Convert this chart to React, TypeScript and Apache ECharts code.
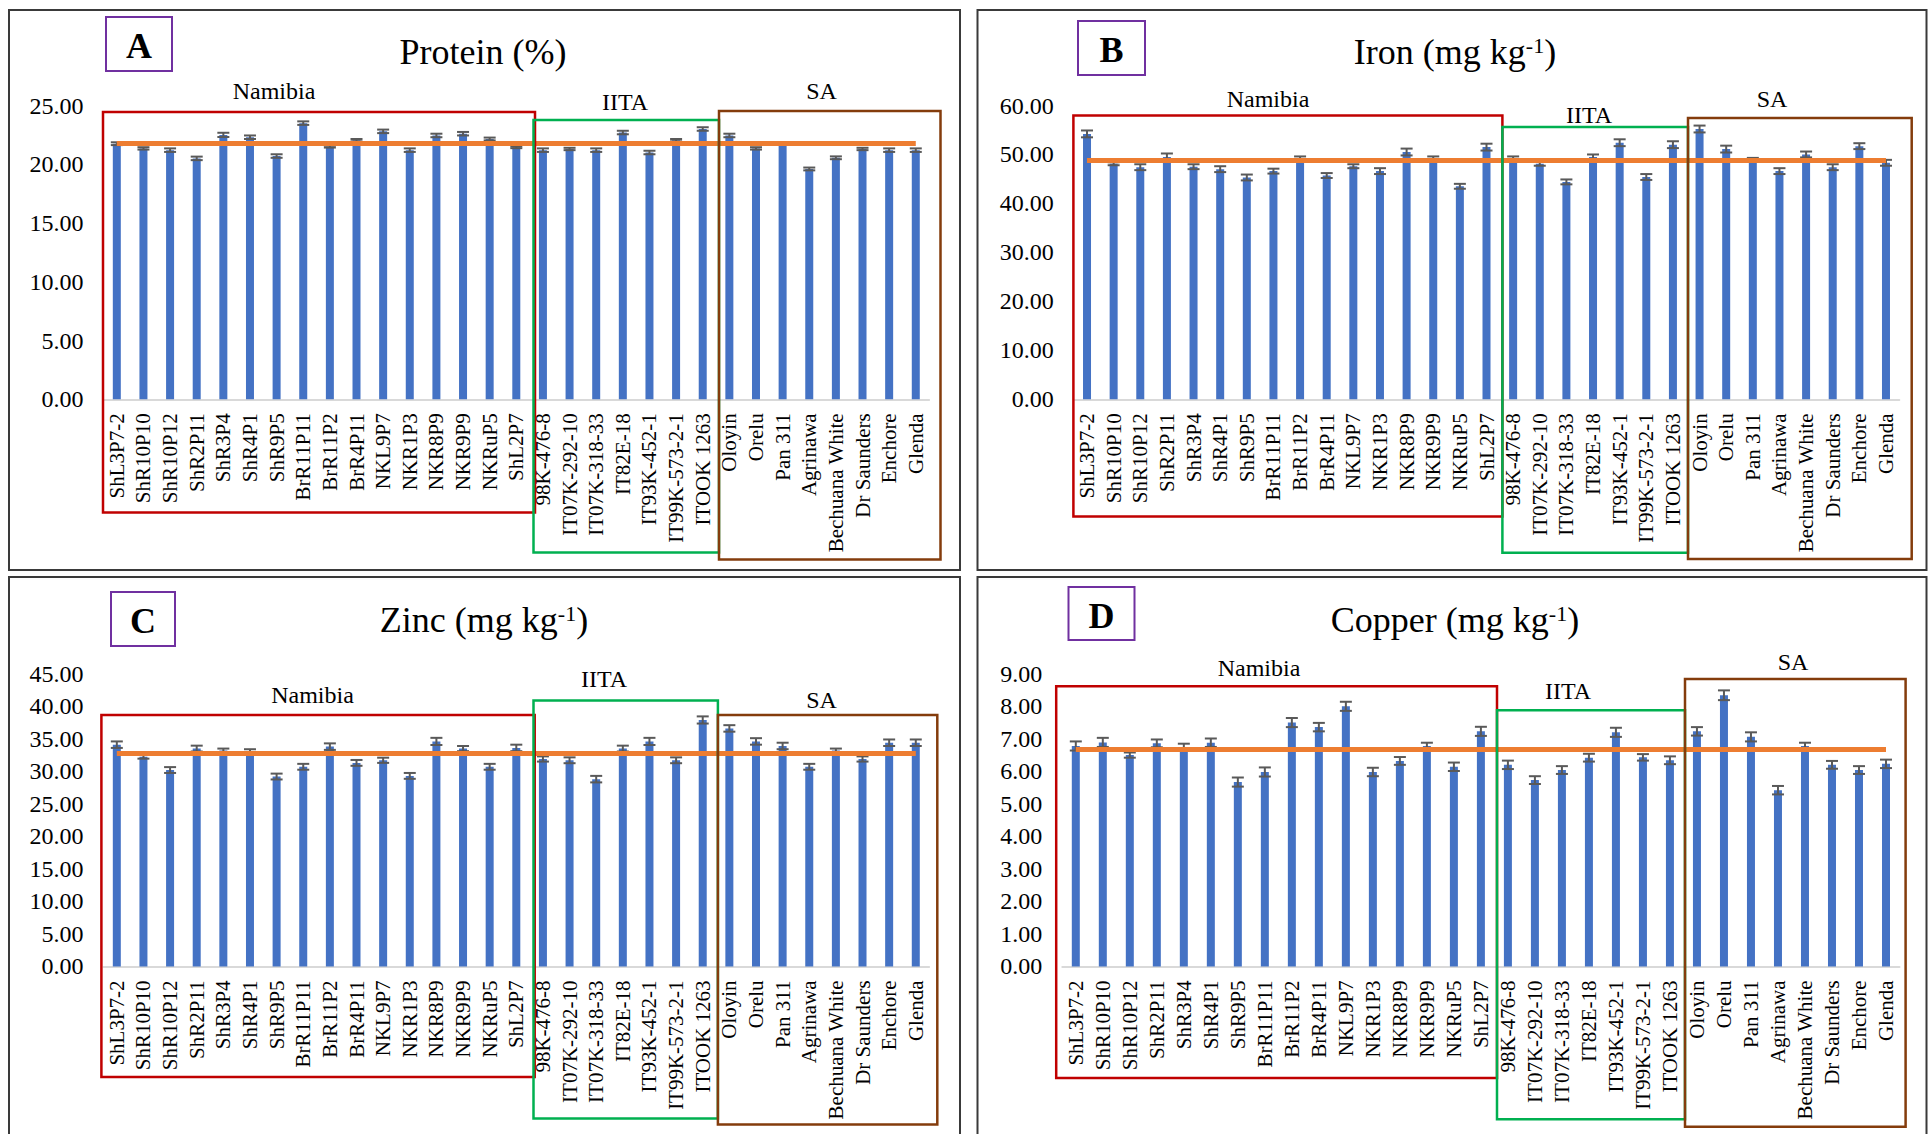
import React, { useEffect, useRef } from "react";
import * as echarts from "echarts";

// ---------------- DATA ----------------
const categories = [
  "ShL3P7-2", "ShR10P10", "ShR10P12", "ShR2P11", "ShR3P4", "ShR4P1", "ShR9P5", "BrR11P11",
  "BrR11P2", "BrR4P11", "NKL9P7", "NKR1P3", "NKR8P9", "NKR9P9", "NKRuP5", "ShL2P7",
  "98K-476-8", "IT07K-292-10", "IT07K-318-33", "IT82E-18", "IT93K-452-1", "IT99K-573-2-1", "ITOOK 1263",
  "Oloyin", "Orelu", "Pan 311", "Agrinawa", "Bechuana White", "Dr Saunders", "Enchore", "Glenda",
];

const proteinValues = [21.75, 21.35, 21.2, 20.5, 22.5, 22.3, 20.7, 23.5, 21.5, 22.05, 22.8, 21.2, 22.45, 22.6, 22.15, 21.45, 21.2, 21.3, 21.2, 22.7, 21.0, 22.05, 23.0, 22.45, 21.35, 21.75, 19.6, 20.55, 21.3, 21.2, 21.2];
const proteinErr = [0.12, 0.1, 0.15, 0.15, 0.18, 0.15, 0.15, 0.15, 0.08, 0.1, 0.15, 0.15, 0.15, 0.15, 0.12, 0.08, 0.15, 0.1, 0.15, 0.15, 0.15, 0.1, 0.15, 0.15, 0.1, 0.05, 0.12, 0.12, 0.1, 0.15, 0.15];
const proteinMean = 21.75;

const ironValues = [54.2, 48.1, 47.4, 49.5, 47.5, 47.0, 45.3, 46.6, 49.2, 45.7, 47.6, 46.6, 50.5, 49.3, 43.5, 51.5, 49.2, 48.1, 44.4, 49.5, 52.4, 45.4, 52.0, 55.2, 51.1, 49.0, 46.6, 50.0, 47.4, 51.7, 48.3];
const ironErr = [0.7, 0.3, 0.6, 0.7, 0.5, 0.6, 0.6, 0.5, 0.4, 0.5, 0.4, 0.6, 0.7, 0.3, 0.5, 0.7, 0.4, 0.4, 0.5, 0.5, 0.7, 0.6, 0.7, 0.7, 0.7, 0.3, 0.6, 0.6, 0.6, 0.6, 0.6];
const ironMean = 48.9;

const zincValues = [34.1, 32.25, 30.2, 33.5, 33.2, 33.1, 29.2, 30.7, 33.8, 31.3, 31.7, 29.3, 34.6, 33.5, 30.7, 33.6, 31.9, 31.7, 28.8, 33.5, 34.6, 31.7, 37.9, 36.6, 34.6, 33.9, 30.7, 33.2, 31.9, 34.4, 34.4];
const zincErr = [0.5, 0.3, 0.45, 0.45, 0.3, 0.3, 0.45, 0.45, 0.5, 0.45, 0.4, 0.45, 0.55, 0.4, 0.45, 0.5, 0.4, 0.45, 0.5, 0.45, 0.55, 0.45, 0.55, 0.5, 0.5, 0.5, 0.45, 0.3, 0.4, 0.5, 0.5];
const zincMean = 32.8;

const copperValues = [6.78, 6.89, 6.5, 6.86, 6.75, 6.88, 5.67, 5.98, 7.5, 7.36, 8.0, 5.98, 6.32, 6.78, 6.14, 7.23, 6.2, 5.73, 6.04, 6.42, 7.2, 6.43, 6.34, 7.23, 8.34, 7.06, 5.42, 6.78, 6.2, 6.04, 6.23];
const copperErr = [0.14, 0.14, 0.08, 0.12, 0.1, 0.13, 0.14, 0.14, 0.14, 0.13, 0.14, 0.13, 0.12, 0.1, 0.13, 0.14, 0.13, 0.12, 0.12, 0.12, 0.14, 0.1, 0.12, 0.13, 0.15, 0.14, 0.13, 0.1, 0.12, 0.12, 0.13];
const copperMean = 6.67;

const yMaxes = [25, 60, 45, 9];
const yIntervals = [5, 10, 5, 1];
const titles = ["Protein (%)", "Iron (mg kg{sup|-1})", "Zinc (mg kg{sup|-1})", "Copper (mg kg{sup|-1})"];
const letters = ["A", "B", "C", "D"];
const groupNames = ["Namibia", "IITA", "SA"];

// ---------------- LAYOUT ----------------
const FONT = "Liberation Serif";
const BAR = "#4472C4";
const MEANC = "#ED7D31";
const ERRC = "#595959";
const GROUPC = ["#C00000", "#00B050", "#843C0C"];
const PURPLE = "#7030A0";

const grids = [
  { left: 103.5, top: 105.5, width: 825.6, height: 293.8 },
  { left: 1073.7, top: 105.5, width: 825.6, height: 293.8 },
  { left: 103.5, top: 673.8, width: 825.6, height: 292.6 },
  { left: 1062.3, top: 673.8, width: 837.2, height: 292.6 },
];
const panelFrames = [
  { x: 9, y: 10, w: 951, h: 560 },
  { x: 977.5, y: 10, w: 949, h: 560 },
  { x: 9, y: 577, w: 951, h: 560 },
  { x: 977.5, y: 577, w: 949, h: 560 },
];
const titlePos = [
  [483, 52],
  [1455, 52],
  [484, 620],
  [1455, 620],
];
const letterBoxes = [
  { x: 106, y: 17, w: 66, h: 54 },
  { x: 1078, y: 21, w: 67, h: 54 },
  { x: 111, y: 592, w: 64, h: 54 },
  { x: 1068.5, y: 587, w: 66, h: 53 },
];
// [x1,y1,x2,y2] for Namibia, IITA, SA boxes per panel
const groupBoxes = [
  [[103, 112, 535, 512.5], [533.5, 120, 719, 552.5], [719, 111, 940.5, 559.5]],
  [[1073.4, 115.6, 1502.4, 516.4], [1502.4, 127, 1688, 552.7], [1688, 118, 1911.7, 559]],
  [[101.4, 715, 534.7, 1077], [533.5, 700.6, 717.9, 1118.5], [717.9, 715, 937.3, 1124.6]],
  [[1056.2, 686.2, 1497, 1077.9], [1497, 710.3, 1685, 1119.3], [1685, 679, 1905.6, 1126.8]],
];
const groupLabelPos = [
  [[274, 91], [625, 102], [821.5, 91]],
  [[1268, 98.5], [1589, 114.5], [1772, 98.5]],
  [[312.5, 695], [604, 679], [821.5, 699.5]],
  [[1259, 667.5], [1568, 691], [1793, 661.5]],
];

export default function App() {
  const ref = useRef<HTMLDivElement>(null);

  useEffect(() => {
    if (!ref.current) return;
    const chart = echarts.init(ref.current, undefined, { renderer: "svg" });

    const panelValues = [proteinValues, ironValues, zincValues, copperValues];
    const panelErrs = [proteinErr, ironErr, zincErr, copperErr];
    const panelMeans = [proteinMean, ironMean, zincMean, copperMean];

    const series: any[] = [];
    panelValues.forEach((vals, i) => {
      series.push({
        type: "bar",
        xAxisIndex: i,
        yAxisIndex: i,
        data: vals,
        barWidth: 8,
        itemStyle: { color: BAR },
        z: 2,
        markLine: {
          silent: true,
          symbol: "none",
          label: { show: false },
          lineStyle: { color: MEANC, width: 5, type: "solid", opacity: 1 },
          data: [
            [
              { xAxis: categories[0], yAxis: panelMeans[i] },
              { xAxis: categories[categories.length - 1], yAxis: panelMeans[i] },
            ],
          ],
        },
      });
      series.push({
        type: "custom",
        xAxisIndex: i,
        yAxisIndex: i,
        z: 4,
        encode: { x: 0, y: 1 },
        data: vals.map((v, k) => [k, v, panelErrs[i][k]]),
        renderItem: (params: any, api: any) => {
          const idx = api.value(0);
          const v = api.value(1);
          const e = api.value(2);
          const top = api.coord([idx, v + e]);
          const bot = api.coord([idx, v - e]);
          const hw = 6;
          const st = { stroke: ERRC, lineWidth: 2 };
          return {
            type: "group",
            children: [
              { type: "line", shape: { x1: top[0], y1: top[1], x2: bot[0], y2: bot[1] }, style: st },
              { type: "line", shape: { x1: top[0] - hw, y1: top[1], x2: top[0] + hw, y2: top[1] }, style: st },
              { type: "line", shape: { x1: bot[0] - hw, y1: bot[1], x2: bot[0] + hw, y2: bot[1] }, style: st },
            ],
          };
        },
      });
    });

    const graphic: any[] = [];
    panelFrames.forEach((f) => {
      graphic.push({
        type: "rect",
        shape: { x: f.x, y: f.y, width: f.w, height: f.h },
        style: { fill: "none", stroke: "#3a3a3a", lineWidth: 2 },
        z: 0,
      });
    });
    letterBoxes.forEach((b, i) => {
      graphic.push({
        type: "rect",
        shape: { x: b.x, y: b.y, width: b.w, height: b.h },
        style: { fill: "none", stroke: PURPLE, lineWidth: 2 },
        z: 10,
      });
      graphic.push({
        type: "text",
        x: b.x + b.w / 2,
        y: b.y + b.h / 2 + 2,
        style: {
          text: letters[i],
          fontSize: 36,
          fontWeight: "bold",
          fontFamily: FONT,
          fill: "#000",
          align: "center",
          verticalAlign: "middle",
        },
        z: 10,
      });
    });
    titles.forEach((t, i) => {
      graphic.push({
        type: "text",
        x: titlePos[i][0],
        y: titlePos[i][1],
        style: {
          text: t,
          fontSize: 36,
          fontFamily: FONT,
          fill: "#000",
          align: "center",
          verticalAlign: "middle",
          rich: {
            sup: { fontSize: 22, fontFamily: FONT, fill: "#000", verticalAlign: "top" },
          },
        },
        z: 10,
      });
    });
    groupBoxes.forEach((boxes, p) => {
      boxes.forEach((b, g) => {
        graphic.push({
          type: "rect",
          shape: { x: b[0], y: b[1], width: b[2] - b[0], height: b[3] - b[1] },
          style: { fill: "none", stroke: GROUPC[g], lineWidth: 2.5 },
          z: 10,
        });
        graphic.push({
          type: "text",
          x: groupLabelPos[p][g][0],
          y: groupLabelPos[p][g][1],
          style: {
            text: groupNames[g],
            fontSize: 24,
            fontFamily: FONT,
            fill: "#000",
            align: "center",
            verticalAlign: "middle",
          },
          z: 10,
        });
      });
    });

    chart.setOption({
      animation: false,
      backgroundColor: "#fff",
      textStyle: { fontFamily: FONT },
      grid: grids.map((g) => ({ ...g, containLabel: false })),
      xAxis: grids.map((_, i) => ({
        type: "category",
        gridIndex: i,
        data: categories,
        axisLine: { show: true, lineStyle: { color: "#D9D9D9", width: 2 } },
        axisTick: { show: false },
        axisLabel: {
          interval: 0,
          rotate: 90,
          fontSize: 21,
          fontFamily: FONT,
          color: "#000",
          margin: 14,
        },
      })),
      yAxis: grids.map((_, i) => ({
        type: "value",
        gridIndex: i,
        min: 0,
        max: yMaxes[i],
        interval: yIntervals[i],
        splitLine: { show: false },
        axisLine: { show: false },
        axisTick: { show: false },
        axisLabel: {
          formatter: (v: number) => v.toFixed(2),
          fontSize: 24,
          fontFamily: FONT,
          color: "#000",
          margin: 20,
        },
      })),
      series,
      graphic,
    });

    return () => chart.dispose();
  }, []);

  return (
    <div
      ref={ref}
      style={{ position: "absolute", left: 0, top: 0, width: 1928, height: 1134, background: "#fff" }}
    />
  );
}
